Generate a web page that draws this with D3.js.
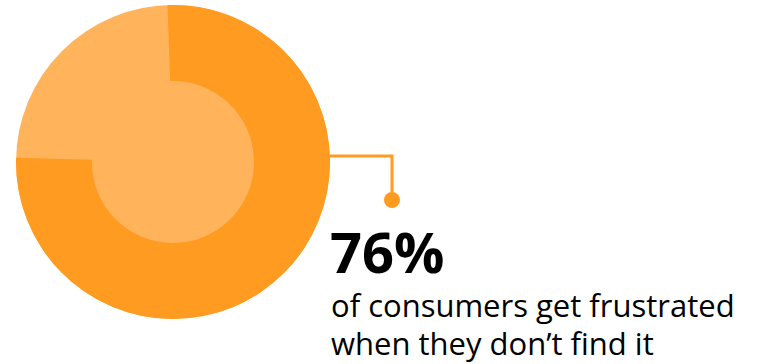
<!DOCTYPE html>
<html>
<head>
<meta charset="utf-8">
<script src="https://cdn.jsdelivr.net/npm/d3@7"></script>
<style>
  html, body { margin: 0; padding: 0; background: #fff; }
  svg { display: block; }
</style>
</head>
<body>
<svg id="chart" width="761" height="364"></svg>
<script>
// Share of consumers, in percent
const categories = ["frustrated", "not frustrated"];
const values = [76, 24];
const headline = "76%";
const captionLines = ["of consumers get frustrated", "when they don\u2019t find it"];

const colors = { main: "#FF9B21", light: "#FFB35B" };

const svg = d3.select("#chart");
const cx = 173, cy = 162, outerR = 157, innerR = 81;

const g = svg.append("g").attr("transform", `translate(${cx},${cy})`);

// light background disc (remaining share and donut centre)
g.append("circle").attr("r", outerR).attr("fill", colors.light);

const rot = -0.035;
const pie = d3.pie().sort(null).value(d => d)
  .startAngle(rot).endAngle(2 * Math.PI + rot);
const arcs = pie(values);
const arc = d3.arc().innerRadius(innerR).outerRadius(outerR);

g.selectAll("path.slice")
  .data(arcs.slice(0, 1))
  .join("path")
  .attr("class", "slice")
  .attr("d", arc)
  .attr("fill", colors.main);

// leader from ring edge down to the callout dot
const lineY = 156, elbowX = 392, dotY = 200;
svg.append("path")
  .attr("d", `M${cx + outerR - 2},${lineY} H${elbowX} V${dotY}`)
  .attr("fill", "none")
  .attr("stroke", colors.main)
  .attr("stroke-width", 3);
svg.append("circle")
  .attr("cx", elbowX).attr("cy", dotY).attr("r", 8)
  .attr("fill", colors.main);

svg.append("text")
  .attr("x", 330).attr("y", 273)
  .attr("font-family", "'Open Sans', sans-serif")
  .attr("font-weight", 700)
  .attr("font-size", 56)
  .attr("fill", "#000")
  .text(headline);

const cap = svg.append("text")
  .attr("font-family", "'Open Sans', sans-serif")
  .attr("font-size", 31)
  .attr("fill", "#000");
cap.selectAll("tspan")
  .data(captionLines)
  .join("tspan")
  .attr("x", 331)
  .attr("y", (d, i) => 317 + i * 38)
  .text(d => d);
</script>
</body>
</html>
